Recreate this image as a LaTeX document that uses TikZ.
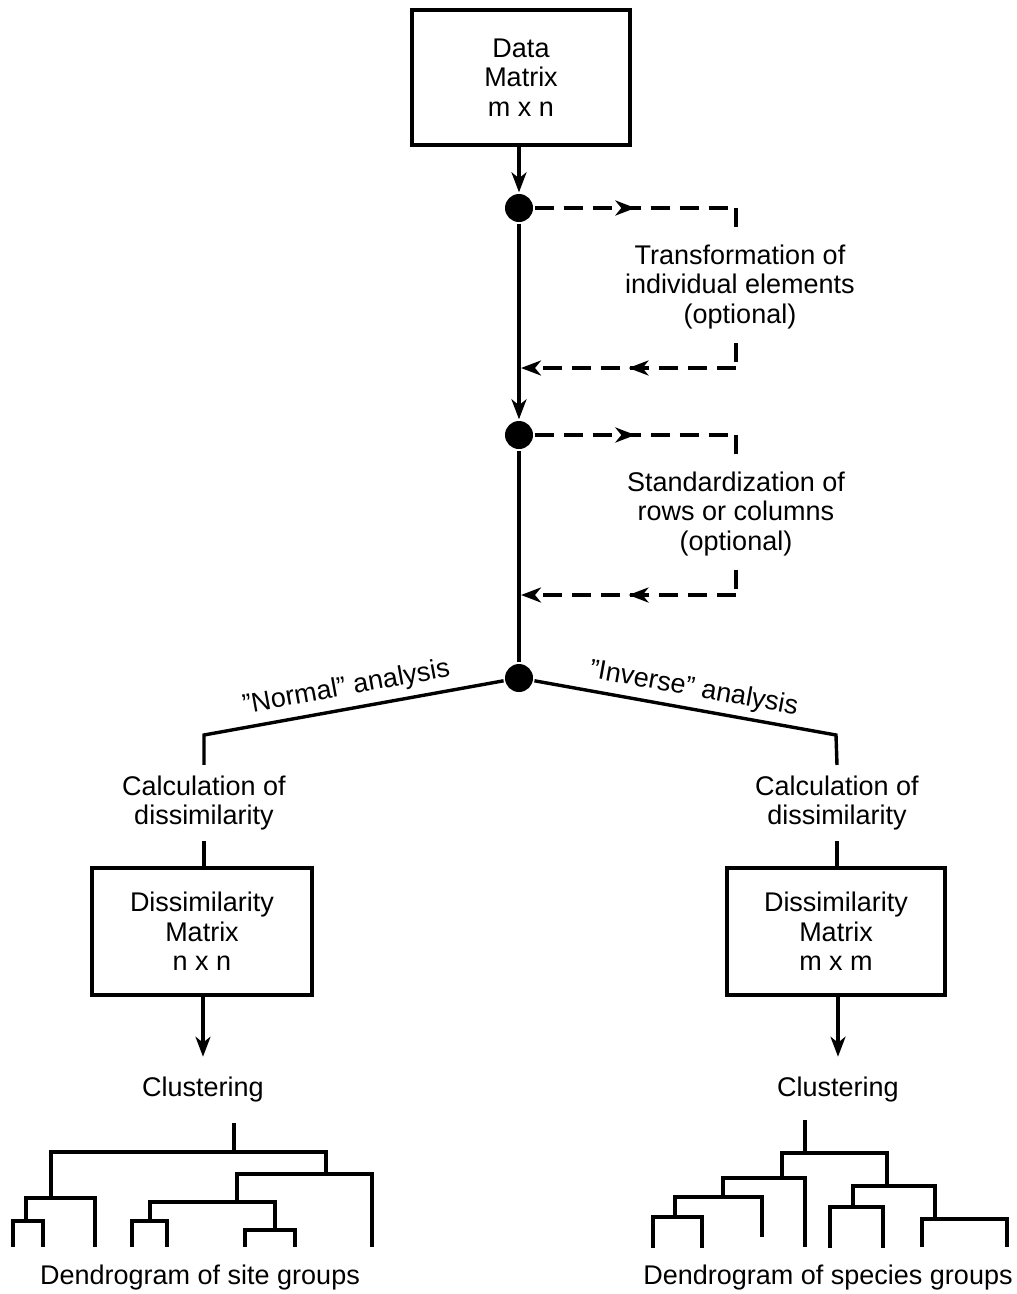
\documentclass[tikz,border=0pt]{standalone}
\usepackage{fontspec}
\setmainfont{Liberation Sans}
\usetikzlibrary{arrows.meta,decorations.markings}
\begin{document}
\begin{tikzpicture}[x=1pt,y=-1pt,line width=3.4pt,
  txt/.style={align=center,font=\fontsize{27}{29.5}\selectfont,inner sep=0pt},
  box/.style={draw,line width=3.2pt,minimum width=218pt,minimum height=127pt,align=center,
    font=\fontsize{27}{29.5}\selectfont,inner sep=0pt},
  dot/.style={circle,fill,inner sep=0pt,minimum size=28pt},
  arr/.style={-{Stealth[length=20pt,width=15pt,inset=6pt]}},
  dline/.style={dash pattern=on 19pt off 10pt,line width=3.4pt},
  midr/.style={postaction={decorate},decoration={markings,
    mark=at position 0.5 with {\arrow{Stealth[length=20pt,width=15pt,inset=6pt]}}}},
  dendro/.style={line width=4pt}]
\useasboundingbox (0,0) rectangle (1017,1294);

% top box and spine
\node[box,minimum height=135pt] (dm) at (521,77.5) {Data\\Matrix\\m x n};
\node[dot] (d1) at (519,208) {};
\node[dot] (d2) at (519,435) {};
\node[dot] (d3) at (519,678) {};
\draw[arr] (dm.south -| d1) -- (d1.north);
\draw[arr] (d1) -- (d2.north);
\draw (d2) -- (d3);

% optional loop 1
\coordinate (t1a) at (736,208);
\coordinate (t1b) at (736,230);
\coordinate (t1c) at (736,343);
\coordinate (t1d) at (736,368);
\coordinate (r1) at (521,368);
\draw[dline,midr] (d1.east) -- (t1a);
\draw[dline] (t1a) -- (t1b);
\draw[dline] (t1c) -- (t1d);
\draw[dline,midr,arr] (t1d) -- (r1);
\node[txt] (tr) at (740,287) {Transformation of\\individual elements\\(optional)};

% optional loop 2
\coordinate (t2a) at (736,435);
\coordinate (t2b) at (736,457);
\coordinate (t2c) at (736,570);
\coordinate (t2d) at (736,595);
\coordinate (r2) at (521,595);
\draw[dline,midr] (d2.east) -- (t2a);
\draw[dline] (t2a) -- (t2b);
\draw[dline] (t2c) -- (t2d);
\draw[dline,midr,arr] (t2d) -- (r2);
\node[txt] (st) at (736,514) {Standardization of\\rows or columns\\(optional)};

% branches
\coordinate (l1) at (204,735);
\coordinate (rr1) at (836,735);
\node[txt,inner ysep=9pt] (cl) at (204,803) {Calculation of\\dissimilarity};
\node[txt,inner ysep=9pt] (cr) at (837,803) {Calculation of\\dissimilarity};
\draw (d3) -- (l1) -- (cl.north);
\draw (d3) -- (rr1) -- (cr.north);
\node[txt,rotate=10.26,anchor=south,inner sep=6pt] (nl) at (350,708) {''Normal'' analysis};
\node[txt,rotate=-10.26,anchor=south,inner sep=6pt] (il) at (690,709) {''Inverse'' analysis};

\node[box,minimum width=220pt] (bl) at (202,931.5) {Dissimilarity\\Matrix\\n x n};
\node[box,minimum width=218pt] (br) at (836,931.5) {Dissimilarity\\Matrix\\m x m};
\draw (cl.south) -- (bl.north -| cl.south);
\draw (cr.south) -- (br.north -| cr.south);

\node[txt,inner ysep=19pt] (kl) at (203,1090) {Clustering};
\node[txt,inner ysep=19pt] (kr) at (838,1090) {Clustering};
\draw[arr] (bl.south -| kl.north) -- (kl.north);
\draw[arr] (br.south -| kr.north) -- (kr.north);

% left dendrogram
\draw[dendro] (234,1123) -- (234,1152);
\draw[dendro] (51,1198) -- (51,1152) -- (326,1152) -- (326,1174);
\draw[dendro] (26,1221) -- (26,1198) -- (95,1198) -- (95,1247);
\draw[dendro] (13,1247) -- (13,1221) -- (43,1221) -- (43,1247);
\draw[dendro] (237,1202) -- (237,1174) -- (372,1174) -- (372,1247);
\draw[dendro] (150,1221) -- (150,1202) -- (275,1202) -- (275,1230);
\draw[dendro] (132,1247) -- (132,1221) -- (167,1221) -- (167,1247);
\draw[dendro] (245,1247) -- (245,1230) -- (295,1230) -- (295,1247);
\node[txt] (dl) at (200,1278) {Dendrogram of site groups};

% right dendrogram
\draw[dendro] (805,1120) -- (805,1153);
\draw[dendro] (782,1178) -- (782,1153) -- (887,1153) -- (887,1186);
\draw[dendro] (723,1197) -- (723,1178) -- (805,1178) -- (805,1247);
\draw[dendro] (675,1217) -- (675,1197) -- (762,1197) -- (762,1237);
\draw[dendro] (653,1248) -- (653,1217) -- (702,1217) -- (702,1248);
\draw[dendro] (853,1207) -- (853,1186) -- (935,1186) -- (935,1219);
\draw[dendro] (830,1248) -- (830,1207) -- (883,1207) -- (883,1248);
\draw[dendro] (922,1247) -- (922,1219) -- (1007,1219) -- (1007,1247);
\node[txt] (dr) at (828,1278) {Dendrogram of species groups};
\end{tikzpicture}
\end{document}
